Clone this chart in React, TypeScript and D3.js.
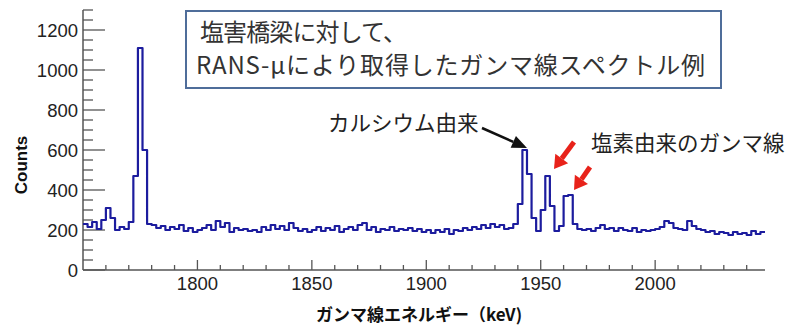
import React, { useEffect, useRef } from 'react';
import * as d3 from 'd3';

// gamma spectrum, 2 keV channels starting at 1750 keV
const binStart = 1750;
const binWidth = 2;
const counts = [
  230, 215, 240, 205, 250, 310, 260, 200, 215, 205, // 1750-1768
  240, 470, 1110, 600, 230, 225, 210, 220, 200, 215, // 1770-1788
  205, 225, 195, 210, 190, 200, 210, 225, 200, 245, // 1790-1808
  215, 235, 190, 210, 200, 205, 195, 200, 190, 215, // 1810-1828
  200, 225, 205, 220, 200, 235, 210, 195, 205, 190, // 1830-1848
  200, 215, 195, 210, 200, 220, 190, 205, 215, 200, // 1850-1868
  225, 235, 200, 215, 190, 205, 200, 215, 195, 205, // 1870-1888
  200, 210, 195, 205, 190, 200, 185, 200, 190, 205, // 1890-1908
  180, 200, 195, 210, 200, 215, 205, 225, 210, 230, // 1910-1928
  215, 225, 205, 210, 230, 330, 600, 480, 260, 195, // 1930-1948
  300, 470, 320, 195, 220, 370, 375, 230, 205, 200, // 1950-1968
  205, 195, 210, 225, 205, 210, 195, 210, 200, 195, // 1970-1988
  210, 190, 200, 195, 200, 205, 215, 245, 235, 210, // 1990-2008
  205, 200, 245, 220, 205, 200, 190, 195, 180, 190, // 2010-2028
  185, 175, 190, 180, 185, 175, 195, 180, 190        // 2030-2046
];

const yTicks = [0, 200, 400, 600, 800, 1000, 1200];
const xTicks = [1800, 1850, 1900, 1950, 2000];

const titleLines = ['塩害橋梁に対して、', 'RANS-μにより取得したガンマ線スペクトル例'];
const caLabel = 'カルシウム由来';
const clLabel = '塩素由来のガンマ線';
const xLabel = 'ガンマ線エネルギー（keV)';
const yLabel = 'Counts';

const W = 787;
const H = 329;
const m = { left: 83, right: 765, top: 10, bottom: 270 };
const jp = '"Noto Sans CJK JP", sans-serif';
const num = '"Liberation Sans", Arial, sans-serif';

export default function App() {
  const svgRef = useRef<SVGSVGElement>(null);

  useEffect(() => {
    const svg = d3.select(svgRef.current);
    svg.selectAll('*').remove();

    const x = d3.scaleLinear().domain([1750, 2048]).range([m.left, m.right]);
    const y = d3.scaleLinear().domain([0, 1300]).range([m.bottom, m.top]);

    const data = counts.map((c, i) => ({ e: binStart + i * binWidth, c }));
    const line = d3.line<{ e: number; c: number }>()
      .x(d => x(d.e))
      .y(d => y(d.c))
      .curve(d3.curveStepAfter);
    // close the last channel
    const pts = [...data, { e: data[data.length - 1].e + binWidth, c: data[data.length - 1].c }];

    const axisCol = '#555';

    // y axis, ticks pointing inward
    svg.append('line')
      .attr('x1', m.left).attr('x2', m.left)
      .attr('y1', m.top).attr('y2', m.bottom)
      .attr('stroke', axisCol).attr('stroke-width', 1.5);
    svg.append('g').selectAll('line')
      .data(d3.range(0, 1301, 50))
      .join('line')
      .attr('x1', m.left)
      .attr('x2', d => m.left + (d % 200 === 0 ? 22 : 10))
      .attr('y1', d => y(d)).attr('y2', d => y(d))
      .attr('stroke', axisCol).attr('stroke-width', 1.3);
    svg.append('g').selectAll('text')
      .data(yTicks)
      .join('text')
      .attr('x', m.left - 5)
      .attr('y', d => y(d))
      .attr('dy', '0.36em')
      .attr('text-anchor', 'end')
      .attr('font-family', num)
      .attr('font-size', 18.5)
      .attr('fill', '#222')
      .text(d => d);

    // x axis
    svg.append('line')
      .attr('x1', m.left).attr('x2', m.right)
      .attr('y1', m.bottom).attr('y2', m.bottom)
      .attr('stroke', axisCol).attr('stroke-width', 1.5);
    svg.append('g').selectAll('line')
      .data(d3.range(1760, 2048, 10))
      .join('line')
      .attr('x1', d => x(d)).attr('x2', d => x(d))
      .attr('y1', m.bottom)
      .attr('y2', d => m.bottom - (d % 50 === 0 ? 10 : 5))
      .attr('stroke', axisCol).attr('stroke-width', 1.3);
    svg.append('g').selectAll('text')
      .data(xTicks)
      .join('text')
      .attr('x', d => x(d))
      .attr('y', 290)
      .attr('text-anchor', 'middle')
      .attr('font-family', num)
      .attr('font-size', 18.5)
      .attr('fill', '#222')
      .text(d => d);

    // spectrum
    svg.append('path')
      .datum(pts)
      .attr('d', line)
      .attr('fill', 'none')
      .attr('stroke', '#1c1c9e')
      .attr('stroke-width', 2.2)
      .attr('stroke-linejoin', 'round');

    // axis titles
    svg.append('text')
      .attr('transform', 'translate(27,165) rotate(-90)')
      .attr('text-anchor', 'middle')
      .attr('font-family', num)
      .attr('font-weight', 'bold')
      .attr('font-size', 17)
      .attr('fill', '#111')
      .text(yLabel);
    svg.append('text')
      .attr('x', 419)
      .attr('y', 321)
      .attr('text-anchor', 'middle')
      .attr('font-family', jp)
      .attr('font-weight', 'bold')
      .attr('font-size', 17)
      .attr('fill', '#111')
      .text(xLabel);

    // title box
    svg.append('rect')
      .attr('x', 186).attr('y', 11)
      .attr('width', 535).attr('height', 77)
      .attr('fill', '#fff')
      .attr('stroke', '#4f6d9a')
      .attr('stroke-width', 2);
    svg.append('g').selectAll('text')
      .data(titleLines)
      .join('text')
      .attr('x', (d, i) => (i === 0 ? 200 : 196))
      .attr('y', (d, i) => 41 + i * 33)
      .attr('font-family', jp)
      .attr('font-size', 24)
      .attr('fill', '#333')
      .attr('textLength', (d, i) => (i === 0 ? 207 : 509))
      .attr('lengthAdjust', 'spacing')
      .text(d => d);

    // annotations
    const arrow = (x1: number, y1: number, x2: number, y2: number, col: string, sw: number, hl: number, hw: number) => {
      const a = Math.atan2(y2 - y1, x2 - x1);
      const bx = x2 - hl * Math.cos(a);
      const by = y2 - hl * Math.sin(a);
      svg.append('line')
        .attr('x1', x1).attr('y1', y1).attr('x2', bx).attr('y2', by)
        .attr('stroke', col).attr('stroke-width', sw);
      const px = -Math.sin(a) * hw / 2;
      const py = Math.cos(a) * hw / 2;
      svg.append('polygon')
        .attr('points', `${x2},${y2} ${bx + px},${by + py} ${bx - px},${by - py}`)
        .attr('fill', col);
    };

    svg.append('text')
      .attr('x', 328).attr('y', 131)
      .attr('font-family', jp)
      .attr('font-size', 21.5)
      .attr('fill', '#222')
      .text(caLabel);
    arrow(482, 128, 527, 148, '#111', 2.5, 15, 13);

    svg.append('text')
      .attr('x', 591).attr('y', 151)
      .attr('font-family', jp)
      .attr('font-size', 21.5)
      .attr('fill', '#222')
      .text(clLabel);
    arrow(574, 142, 554, 169, '#e8221a', 5, 13, 16);
    arrow(590, 167, 574, 190, '#e8221a', 5, 13, 16);
  }, []);

  return (
    <svg
      ref={svgRef}
      width={W}
      height={H}
      style={{ position: 'absolute', left: 0, top: 0, background: '#fff' }}
    />
  );
}
